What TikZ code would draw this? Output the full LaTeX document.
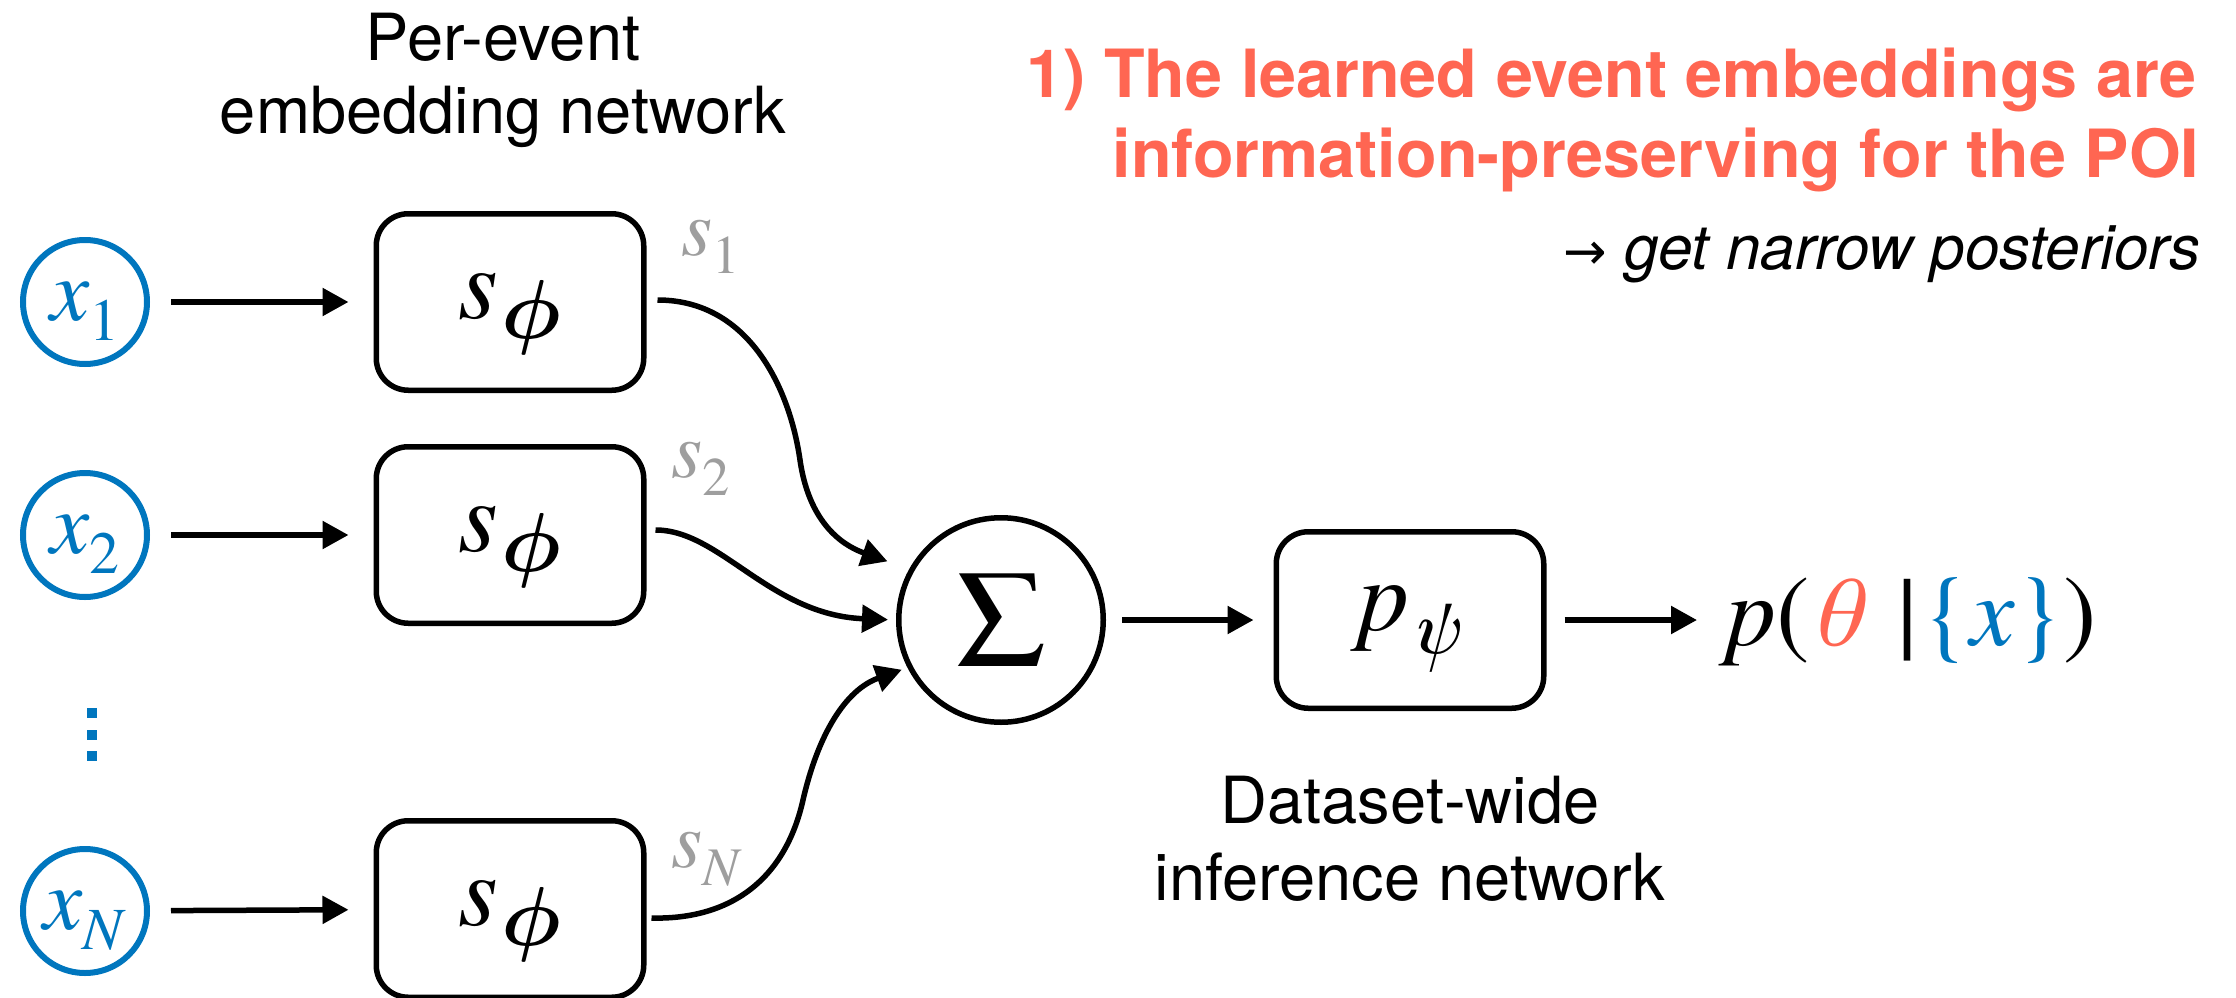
\RequirePackage{fix-cm}
\documentclass[tikz,border=0pt]{standalone}
\usepackage{graphicx}
\usepackage{fontspec}
\setsansfont{TeX Gyre Heros}
\IfFontExistsTF{TeX Gyre Termes}
  {\newfontfamily\tms{TeX Gyre Termes}}
  {\newfontfamily\tms{Liberation Serif}}
\newfontfamily\arrowfont{DejaVu Sans}
\usetikzlibrary{arrows.meta,calc}

\definecolor{xblue}{RGB}{0,118,190}
\definecolor{poicoral}{RGB}{255,102,82}
\definecolor{sgray}{RGB}{158,158,158}

% italic symbol with a lowered, reduced subscript
\newcommand\lsub[2]{\textit{#1}\raisebox{-0.23em}{\scalebox{0.68}{#2}}}
% subscript phi, drawn a little larger and bolder
\newcommand\subphi{\textit{s}\kern0.03em\raisebox{-0.2em}{\scalebox{0.82}{$\boldsymbol{\phi}$}}}
\providecommand\boldsymbol[1]{\mbox{\boldmath$#1$}}

\begin{document}
\begin{tikzpicture}[x=1pt,y=-1pt,line width=5.5pt,
  inp/.style={circle,draw=xblue,line width=6pt,text=xblue,minimum size=124pt,inner sep=0pt,
    text height=40pt,text depth=4pt,font=\tms\fontsize{88}{100}\selectfont},
  net/.style={draw,rounded corners=32pt,minimum width=267.5pt,minimum height=176.5pt,
    inner sep=0pt,text height=50pt,text depth=18pt,font=\tms\fontsize{102}{120}\selectfont},
  sumnode/.style={circle,draw,minimum size=204.5pt,inner sep=0pt,
    font=\tms\fontsize{140}{160}\selectfont},
  arr/.style={-{Triangle[length=26pt,width=27pt]}},
  emb/.style={text=sgray,inner sep=0pt,anchor=base west,font=\tms\fontsize{80}{96}\selectfont},
  caption/.style={inner sep=0pt,anchor=base,font=\sffamily\fontsize{65}{77}\selectfont},
  headline/.style={inner sep=0pt,anchor=base east,text=poicoral,
    font=\sffamily\bfseries\fontsize{66.5}{79}\selectfont}]
\useasboundingbox (0,0) rectangle (2236,998);

% inputs
\node[inp] (x1) at (85,302) {\lsub{x}{1}};
\node[inp] (x2) at (85,535) {\lsub{x}{2}};
\node[inp] (xN) at (85,911) {\lsub{x}{\textit{N}}};
\foreach \yy in {713,735,756}
  \fill[xblue] (87,\yy-5) rectangle (97,\yy+5);

% per-event embedding networks
\node[net] (b1) at (510,302) {\subphi};
\node[net] (b2) at (510,535) {\subphi};
\node[net] (bN) at (510,909) {\subphi};

% summary labels
\node[emb] (l1) at (679,255) {\lsub{s}{1}};
\node[emb] (l2) at (669,477) {\lsub{s}{2}};
\node[emb] (lN) at (669,867) {\lsub{s}{\textit{N}}};

% aggregation and inference
\node[sumnode] (sig) at (1001,620) {Σ};
\node[net,text height=50pt,text depth=30pt] (pn) at (1410,620)
  {\textit{p}\raisebox{-0.23em}{\scalebox{0.74}{\textit{ψ}}}};
\node[anchor=base west,inner sep=0pt,font=\tms\fontsize{100}{120}\selectfont] (post) at (1724,645)
  {\textit{p}(\textcolor{poicoral}{\textit{θ}}\kern0.3em|\kern0.05em\textcolor{xblue}{\{\textit{x}\}})};

% straight connectors
\draw[arr,shorten <=21pt,shorten >=25pt] (x1) -- (b1);
\draw[arr,shorten <=21pt,shorten >=25pt] (x2) -- (b2);
\draw[arr,shorten <=21pt,shorten >=25pt] (xN) -- (bN);
\draw[arr,shorten <=16pt,shorten >=20pt] (sig) -- (pn);
\draw[arr,shorten <=18pt,shorten >=27pt] (pn) -- (pn -| post.west);

% curved connectors into the sum
\draw[arr,shorten >=23pt] ($(b1.east)+(11,-2)$) .. controls (750,300) and (790,390) .. (800,460)
  .. controls (810,530) and (850,548) .. (sig.151);
\draw[arr,shorten >=8pt] ($(b2.east)+(9,-5)$) .. controls (720,530) and (770,615) .. (sig.180);
\draw[arr,shorten >=6pt] ($(bN.east)+(5,9)$) .. controls (730,920) and (785,880) .. (803,800)
  .. controls (818,735) and (845,690) .. (sig.207);

% captions
\node[caption] (c1a) at (503,60) {Per-event};
\node[caption] (c1b) at (503,133) {embedding network};
\node[caption] (c2a) at (1410,823) {Dataset-wide};
\node[caption] (c2b) at (1410,900) {inference network};

% headline
\node[headline] (t1) at (2199,98) {1) The learned event embeddings are};
\node[headline] (t2) at (2202,177) {information-preserving for the POI};
\node[inner sep=0pt,anchor=base east,font=\sffamily\itshape\fontsize{62}{72}\selectfont] (t3)
  at (2203,269) {{\arrowfont\upshape\fontsize{52}{60}\selectfont →} get narrow posteriors};
\end{tikzpicture}
\end{document}
